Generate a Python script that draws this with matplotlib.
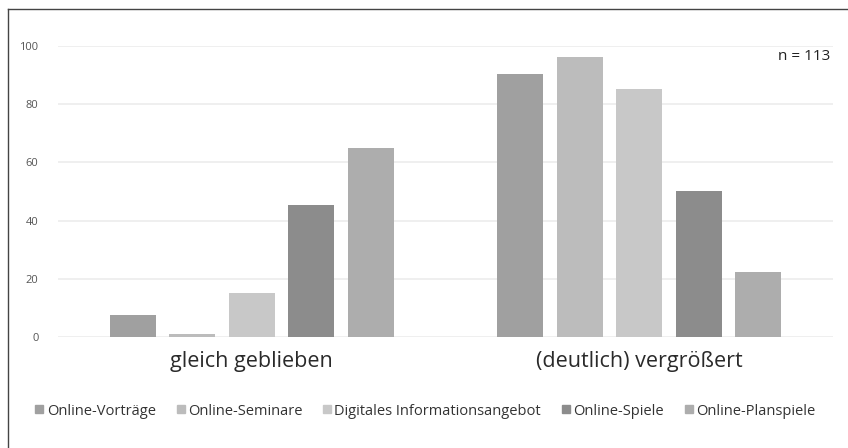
import matplotlib
matplotlib.use("Agg")
import matplotlib.pyplot as plt
from matplotlib.lines import Line2D
import numpy as np

categories = ["gleich geblieben", "(deutlich) vergrößert"]
series = ["Online-Vorträge", "Online-Seminare", "Digitales Informationsangebot", "Online-Spiele", "Online-Planspiele"]
vortraege = [7.6, 90.4]
seminare = [1.0, 96.2]
digitales = [15.0, 85.2]
spiele = [45.4, 50.2]
planspiele = [65.0, 22.3]
yticks = [0, 20, 40, 60, 80, 100]
colors = ["#a0a0a0", "#bcbcbc", "#c8c8c8", "#8c8c8c", "#adadad"]

data = [vortraege, seminare, digitales, spiele, planspiele]

W, H = 848, 448
fig = plt.figure(figsize=(W/100, H/100), dpi=100)
fig.patch.set_facecolor("white")
ax = fig.add_axes([58/W, 1-337/H, (833-58)/W, (337-46)/H])

x = np.arange(len(categories))
bw = 0.119
step = 0.1535
for i, (name, vals, c) in enumerate(zip(series, data, colors)):
    ax.bar(x + (i-2)*step, vals, width=bw, color=c, label=name, zorder=3)

ax.set_xlim(-0.5, 1.5)
ax.set_ylim(0, 100)
ax.set_yticks(yticks)
ax.yaxis.grid(True, color="#ececec", linewidth=1.2, zorder=0)
for s in ax.spines.values():
    s.set_visible(False)
ax.tick_params(axis="y", length=0, pad=14, labelsize=8, labelcolor="#555555")
ax.tick_params(axis="x", length=0, pad=10, labelsize=15.5, labelcolor="#2a2a2a")
ax.set_xticks(x)
ax.set_xticklabels(categories, fontfamily="Open Sans")
for lab in ax.get_yticklabels():
    lab.set_fontfamily("Open Sans")

fig.text(830/W, 1-56/H, "n = 113", ha="right", va="center", fontsize=11, color="#222222", family="Open Sans")

handles = [Line2D([0], [0], marker="s", linestyle="none", markersize=6,
                  markerfacecolor=c, markeredgecolor=c) for c in colors]
leg = fig.legend(handles, series, loc="center", bbox_to_anchor=(424/W, 1-411/H), ncol=5,
                 frameon=False, handletextpad=0.05, columnspacing=1.25, handlelength=0.9,
                 prop={"family": "Open Sans", "size": 10.5})
for t in leg.get_texts():
    t.set_color("#333333")

# border lines (top, left)
fig.add_artist(Line2D([8/W, 1], [1-9/H, 1-9/H], color="#444444", linewidth=1.0, transform=fig.transFigure))
fig.add_artist(Line2D([8/W, 8/W], [0, 1-9/H], color="#444444", linewidth=1.0, transform=fig.transFigure))

fig.savefig("out.png", dpi=100, facecolor="white")
